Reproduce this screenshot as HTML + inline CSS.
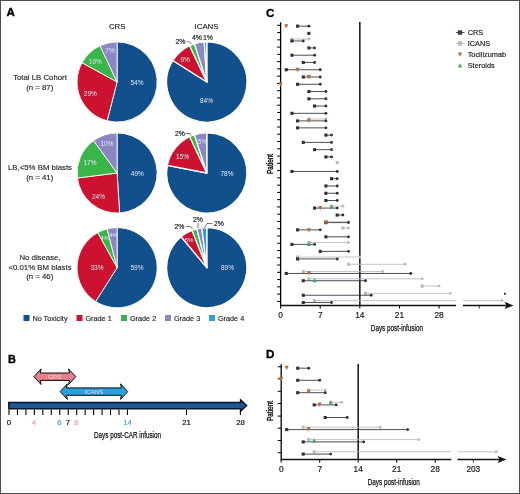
<!DOCTYPE html>
<html><head><meta charset="utf-8"><title>Figure</title>
<style>
html,body{margin:0;padding:0;background:#fff;}
body{width:520px;height:494px;overflow:hidden;}
svg{display:block;font-family:"Liberation Sans", sans-serif;}
</style></head><body>
<svg width="520" height="494" viewBox="0 0 520 494">
<defs><filter id="soft" x="0" y="0" width="520" height="494" filterUnits="userSpaceOnUse" color-interpolation-filters="sRGB"><feGaussianBlur stdDeviation="0.35"/></filter></defs>
<rect x="0" y="0" width="520" height="494" fill="#fff"/>
<rect x="0.5" y="0.5" width="519" height="493" fill="none" stroke="#4d4d4d" stroke-width="1"/>

<g filter="url(#soft)">
<text x="6.6" y="16.3" font-size="11.5" font-weight="bold" fill="#000" stroke="#000" stroke-width="0.35" textLength="8.4" lengthAdjust="spacingAndGlyphs">A</text>
<text x="8.1" y="363.2" font-size="11.5" font-weight="bold" fill="#000" stroke="#000" stroke-width="0.35" textLength="7.9" lengthAdjust="spacingAndGlyphs">B</text>
<text x="266.0" y="16.9" font-size="11.5" font-weight="bold" fill="#000" stroke="#000" stroke-width="0.35" textLength="8.4" lengthAdjust="spacingAndGlyphs">C</text>
<text x="266.0" y="357.8" font-size="11.5" font-weight="bold" fill="#000" stroke="#000" stroke-width="0.35" textLength="8.4" lengthAdjust="spacingAndGlyphs">D</text>
<text x="117.2" y="28.8" font-size="7.8" fill="#231f20" text-anchor="middle" font-weight="normal" stroke="#231f20" stroke-width="0.15">CRS</text>
<text x="206.5" y="28.8" font-size="7.8" fill="#231f20" text-anchor="middle" font-weight="normal" stroke="#231f20" stroke-width="0.15">ICANS</text>
<path d="M117.10,82.00 L117.10,41.95 A40.05,40.05 0 1 1 107.14,120.79 Z" fill="#11508c" stroke="#fffdf5" stroke-width="0.9" stroke-linejoin="round"/>
<path d="M117.10,82.00 L107.14,120.79 A40.05,40.05 0 0 1 82.00,62.71 Z" fill="#cc1230" stroke="#fffdf5" stroke-width="0.9" stroke-linejoin="round"/>
<path d="M117.10,82.00 L82.00,62.71 A40.05,40.05 0 0 1 100.05,45.76 Z" fill="#39b54a" stroke="#fffdf5" stroke-width="0.9" stroke-linejoin="round"/>
<path d="M117.10,82.00 L100.05,45.76 A40.05,40.05 0 0 1 117.10,41.95 Z" fill="#8c86c5" stroke="#fffdf5" stroke-width="0.9" stroke-linejoin="round"/>
<path d="M206.80,82.00 L206.80,41.85 A40.15,40.15 0 1 1 172.90,60.49 Z" fill="#11508c" stroke="#fffdf5" stroke-width="1.3" stroke-linejoin="round"/>
<path d="M206.80,82.00 L172.90,60.49 A40.15,40.15 0 0 1 189.70,45.67 Z" fill="#cc1230" stroke="#fffdf5" stroke-width="1.3" stroke-linejoin="round"/>
<path d="M206.80,82.00 L189.70,45.67 A40.15,40.15 0 0 1 194.39,43.82 Z" fill="#39b54a" stroke="#fffdf5" stroke-width="1.3" stroke-linejoin="round"/>
<path d="M206.80,82.00 L194.39,43.82 A40.15,40.15 0 0 1 204.28,41.93 Z" fill="#8c86c5" stroke="#fffdf5" stroke-width="1.3" stroke-linejoin="round"/>
<path d="M206.80,82.00 L204.28,41.93 A40.15,40.15 0 0 1 206.80,41.85 Z" fill="#2f9fdc" stroke="#fffdf5" stroke-width="1.3" stroke-linejoin="round"/>
<path d="M117.10,173.00 L117.10,132.95 A40.05,40.05 0 0 1 119.61,212.97 Z" fill="#11508c" stroke="#fffdf5" stroke-width="0.9" stroke-linejoin="round"/>
<path d="M117.10,173.00 L119.61,212.97 A40.05,40.05 0 0 1 77.37,178.02 Z" fill="#cc1230" stroke="#fffdf5" stroke-width="0.9" stroke-linejoin="round"/>
<path d="M117.10,173.00 L77.37,178.02 A40.05,40.05 0 0 1 93.56,140.60 Z" fill="#39b54a" stroke="#fffdf5" stroke-width="0.9" stroke-linejoin="round"/>
<path d="M117.10,173.00 L93.56,140.60 A40.05,40.05 0 0 1 117.10,132.95 Z" fill="#8c86c5" stroke="#fffdf5" stroke-width="0.9" stroke-linejoin="round"/>
<path d="M206.80,173.00 L206.80,132.85 A40.15,40.15 0 1 1 167.36,165.48 Z" fill="#11508c" stroke="#fffdf5" stroke-width="1.3" stroke-linejoin="round"/>
<path d="M206.80,173.00 L167.36,165.48 A40.15,40.15 0 0 1 189.70,136.67 Z" fill="#cc1230" stroke="#fffdf5" stroke-width="1.3" stroke-linejoin="round"/>
<path d="M206.80,173.00 L189.70,136.67 A40.15,40.15 0 0 1 194.39,134.82 Z" fill="#39b54a" stroke="#fffdf5" stroke-width="1.3" stroke-linejoin="round"/>
<path d="M206.80,173.00 L194.39,134.82 A40.15,40.15 0 0 1 206.80,132.85 Z" fill="#8c86c5" stroke="#fffdf5" stroke-width="1.3" stroke-linejoin="round"/>
<path d="M117.10,267.70 L117.10,227.65 A40.05,40.05 0 1 1 95.64,301.52 Z" fill="#11508c" stroke="#fffdf5" stroke-width="0.9" stroke-linejoin="round"/>
<path d="M117.10,267.70 L95.64,301.52 A40.05,40.05 0 0 1 97.81,232.60 Z" fill="#cc1230" stroke="#fffdf5" stroke-width="0.9" stroke-linejoin="round"/>
<path d="M117.10,267.70 L97.81,232.60 A40.05,40.05 0 0 1 107.14,228.91 Z" fill="#39b54a" stroke="#fffdf5" stroke-width="0.9" stroke-linejoin="round"/>
<path d="M117.10,267.70 L107.14,228.91 A40.05,40.05 0 0 1 117.10,227.65 Z" fill="#8c86c5" stroke="#fffdf5" stroke-width="0.9" stroke-linejoin="round"/>
<path d="M206.80,267.70 L206.80,227.55 A40.15,40.15 0 1 1 181.21,236.76 Z" fill="#11508c" stroke="#fffdf5" stroke-width="1.3" stroke-linejoin="round"/>
<path d="M206.80,267.70 L181.21,236.76 A40.15,40.15 0 0 1 192.02,230.37 Z" fill="#cc1230" stroke="#fffdf5" stroke-width="1.3" stroke-linejoin="round"/>
<path d="M206.80,267.70 L192.02,230.37 A40.15,40.15 0 0 1 196.82,228.81 Z" fill="#39b54a" stroke="#fffdf5" stroke-width="1.3" stroke-linejoin="round"/>
<path d="M206.80,267.70 L196.82,228.81 A40.15,40.15 0 0 1 201.77,227.87 Z" fill="#8c86c5" stroke="#fffdf5" stroke-width="1.3" stroke-linejoin="round"/>
<path d="M206.80,267.70 L201.77,227.87 A40.15,40.15 0 0 1 206.80,227.55 Z" fill="#2f9fdc" stroke="#fffdf5" stroke-width="1.3" stroke-linejoin="round"/>
<text x="137" y="84.7" font-size="6.5" fill="#dde9f5" text-anchor="middle" font-weight="normal">54%</text>
<text x="90.3" y="96.0" font-size="6.5" fill="#dde9f5" text-anchor="middle" font-weight="normal">29%</text>
<text x="95.3" y="64.0" font-size="6.5" fill="#dde9f5" text-anchor="middle" font-weight="normal">10%</text>
<text x="110" y="52.6" font-size="6.5" fill="#dde9f5" text-anchor="middle" font-weight="normal">7%</text>
<text x="206.5" y="102.80000000000001" font-size="6.5" fill="#dde9f5" text-anchor="middle" font-weight="normal">84%</text>
<text x="185.2" y="61.9" font-size="6.5" fill="#dde9f5" text-anchor="middle" font-weight="normal">9%</text>
<text x="180.4" y="44.0" font-size="6.9" fill="#231f20" text-anchor="middle" font-weight="normal" stroke="#231f20" stroke-width="0.2">2%</text>
<text x="197.0" y="39.8" font-size="6.9" fill="#231f20" text-anchor="middle" font-weight="normal" stroke="#231f20" stroke-width="0.2">4%</text>
<text x="208.0" y="39.8" font-size="6.9" fill="#231f20" text-anchor="middle" font-weight="normal" stroke="#231f20" stroke-width="0.2">1%</text>
<path d="M186.5,41.8 H189.5 L191.5,44" fill="none" stroke="#231f20" stroke-width="0.6"/>
<text x="137.3" y="175.9" font-size="6.5" fill="#dde9f5" text-anchor="middle" font-weight="normal">49%</text>
<text x="98.5" y="198.9" font-size="6.5" fill="#dde9f5" text-anchor="middle" font-weight="normal">24%</text>
<text x="90" y="164.9" font-size="6.5" fill="#dde9f5" text-anchor="middle" font-weight="normal">17%</text>
<text x="107" y="145.9" font-size="6.5" fill="#dde9f5" text-anchor="middle" font-weight="normal">10%</text>
<text x="227" y="175.9" font-size="6.5" fill="#dde9f5" text-anchor="middle" font-weight="normal">78%</text>
<text x="182.5" y="158.9" font-size="6.5" fill="#dde9f5" text-anchor="middle" font-weight="normal">15%</text>
<text x="202.5" y="143.9" font-size="6.5" fill="#dde9f5" text-anchor="middle" font-weight="normal">5%</text>
<text x="180" y="136.1" font-size="6.9" fill="#231f20" text-anchor="middle" font-weight="normal" stroke="#231f20" stroke-width="0.2">2%</text>
<path d="M185.5,133.4 H189.3 L190.8,135.6" fill="none" stroke="#231f20" stroke-width="0.7"/>
<text x="137" y="269.9" font-size="6.5" fill="#dde9f5" text-anchor="middle" font-weight="normal">59%</text>
<text x="97" y="269.9" font-size="6.5" fill="#dde9f5" text-anchor="middle" font-weight="normal">33%</text>
<text x="104.5" y="239.9" font-size="6" fill="#dde9f5" text-anchor="middle" font-weight="normal">4%</text>
<text x="113.5" y="237.4" font-size="6" fill="#dde9f5" text-anchor="middle" font-weight="normal">4%</text>
<text x="227.5" y="269.9" font-size="6.5" fill="#dde9f5" text-anchor="middle" font-weight="normal">89%</text>
<text x="189" y="241.9" font-size="6" fill="#dde9f5" text-anchor="middle" font-weight="normal">5%</text>
<text x="179.5" y="228.9" font-size="6.9" fill="#231f20" text-anchor="middle" font-weight="normal" stroke="#231f20" stroke-width="0.2">2%</text>
<text x="198" y="221.9" font-size="6.9" fill="#231f20" text-anchor="middle" font-weight="normal" stroke="#231f20" stroke-width="0.2">2%</text>
<text x="219" y="225.9" font-size="6.9" fill="#231f20" text-anchor="middle" font-weight="normal" stroke="#231f20" stroke-width="0.2">2%</text>
<path d="M186,226.5 H190.5 L192.5,229" fill="none" stroke="#231f20" stroke-width="0.6"/>
<path d="M198,223 V228" fill="none" stroke="#231f20" stroke-width="0.6"/>
<path d="M212.5,223.5 H207 L204.5,228" fill="none" stroke="#231f20" stroke-width="0.6"/>
<text x="40" y="79.7" font-size="7.8" fill="#231f20" text-anchor="middle" font-weight="normal" stroke="#231f20" stroke-width="0.15">Total LB Cohort</text>
<text x="39.7" y="89.5" font-size="7.8" fill="#231f20" text-anchor="middle" font-weight="normal" stroke="#231f20" stroke-width="0.15">(n = 87)</text>
<text x="40" y="170.3" font-size="7.8" fill="#231f20" text-anchor="middle" font-weight="normal" stroke="#231f20" stroke-width="0.15">LB,&lt;5% BM blasts</text>
<text x="39.7" y="179.7" font-size="7.8" fill="#231f20" text-anchor="middle" font-weight="normal" stroke="#231f20" stroke-width="0.15">(n = 41)</text>
<text x="40" y="260.3" font-size="7.8" fill="#231f20" text-anchor="middle" font-weight="normal" stroke="#231f20" stroke-width="0.15">No disease,</text>
<text x="40" y="269.9" font-size="7.8" fill="#231f20" text-anchor="middle" font-weight="normal" stroke="#231f20" stroke-width="0.15">&lt;0.01% BM blasts</text>
<text x="39.7" y="279.3" font-size="7.8" fill="#231f20" text-anchor="middle" font-weight="normal" stroke="#231f20" stroke-width="0.15">(n = 46)</text>
<rect x="23.5" y="315" width="6" height="6" fill="#11508c"/>
<text x="32.4" y="320.6" font-size="7.8" fill="#231f20" text-anchor="start" font-weight="normal" textLength="35.16" lengthAdjust="spacingAndGlyphs" stroke="#231f20" stroke-width="0.15">No Toxicity</text>
<rect x="76.5" y="315" width="6" height="6" fill="#cc1230"/>
<text x="85.4" y="320.6" font-size="7.8" fill="#231f20" text-anchor="start" font-weight="normal" textLength="26.37" lengthAdjust="spacingAndGlyphs" stroke="#231f20" stroke-width="0.15">Grade 1</text>
<rect x="121" y="315" width="6" height="6" fill="#39b54a"/>
<text x="129.9" y="320.6" font-size="7.8" fill="#231f20" text-anchor="start" font-weight="normal" textLength="26.37" lengthAdjust="spacingAndGlyphs" stroke="#231f20" stroke-width="0.15">Grade 2</text>
<rect x="165" y="315" width="6" height="6" fill="#8c86c5"/>
<text x="173.9" y="320.6" font-size="7.8" fill="#231f20" text-anchor="start" font-weight="normal" textLength="26.37" lengthAdjust="spacingAndGlyphs" stroke="#231f20" stroke-width="0.15">Grade 3</text>
<rect x="209" y="315" width="6" height="6" fill="#2f9fdc"/>
<text x="217.9" y="320.6" font-size="7.8" fill="#231f20" text-anchor="start" font-weight="normal" textLength="26.37" lengthAdjust="spacingAndGlyphs" stroke="#231f20" stroke-width="0.15">Grade 4</text>
<path d="M8.8,402.4 H240.6 V399.9 L246.6,405.6 L240.6,411.3 V408.8 H8.8 Z" fill="#1c5892" stroke="#07162a" stroke-width="1.5" stroke-linejoin="miter"/>
<line x1="240.4" y1="411.5" x2="240.4" y2="415" stroke="#000" stroke-width="1.1"/>
<line x1="9.00" y1="409.5" x2="9.00" y2="415" stroke="#000" stroke-width="1.1"/>
<line x1="17.46" y1="409.5" x2="17.46" y2="415" stroke="#000" stroke-width="1.1"/>
<line x1="25.92" y1="409.5" x2="25.92" y2="415" stroke="#000" stroke-width="1.1"/>
<line x1="34.38" y1="409.5" x2="34.38" y2="415" stroke="#000" stroke-width="1.1"/>
<line x1="42.84" y1="409.5" x2="42.84" y2="415" stroke="#000" stroke-width="1.1"/>
<line x1="51.30" y1="409.5" x2="51.30" y2="415" stroke="#000" stroke-width="1.1"/>
<line x1="59.76" y1="409.5" x2="59.76" y2="415" stroke="#000" stroke-width="1.1"/>
<line x1="68.22" y1="409.5" x2="68.22" y2="415" stroke="#000" stroke-width="1.1"/>
<line x1="76.68" y1="409.5" x2="76.68" y2="415" stroke="#000" stroke-width="1.1"/>
<line x1="85.14" y1="409.5" x2="85.14" y2="415" stroke="#000" stroke-width="1.1"/>
<line x1="93.60" y1="409.5" x2="93.60" y2="415" stroke="#000" stroke-width="1.1"/>
<line x1="102.06" y1="409.5" x2="102.06" y2="415" stroke="#000" stroke-width="1.1"/>
<line x1="110.52" y1="409.5" x2="110.52" y2="415" stroke="#000" stroke-width="1.1"/>
<line x1="118.98" y1="409.5" x2="118.98" y2="415" stroke="#000" stroke-width="1.1"/>
<line x1="127.44" y1="409.5" x2="127.44" y2="415" stroke="#000" stroke-width="1.1"/>
<line x1="186.5" y1="409.5" x2="186.5" y2="415" stroke="#000" stroke-width="1.1"/>
<path d="M33.9,376.7 L41.099999999999994,368.9 L40.199999999999996,373.0 H69.5 L68.6,368.9 L75.8,376.7 L68.6,384.5 L69.5,380.4 H40.199999999999996 L41.099999999999994,384.5 Z" fill="#e67f8b" stroke="#0a0a0a" stroke-width="1.0" stroke-linejoin="miter"/>
<text x="54.849999999999994" y="378.9" font-size="6.2" fill="#f8d3d6" text-anchor="middle" font-weight="normal">CRS</text>
<path d="M60.2,391.6 L67.4,383.8 L66.5,387.90000000000003 H121.4 L120.5,383.8 L127.7,391.6 L120.5,399.40000000000003 L121.4,395.3 H66.5 L67.4,399.40000000000003 Z" fill="#2aa1dc" stroke="#0a0a0a" stroke-width="1.0" stroke-linejoin="miter"/>
<text x="93.95" y="393.8" font-size="6.2" fill="#c8e6f7" text-anchor="middle" font-weight="normal">ICANS</text>
<text x="9" y="424.8" font-size="7.8" fill="#1a1a1a" text-anchor="middle" font-weight="normal" stroke="#1a1a1a" stroke-width="0.2">0</text>
<text x="34" y="424.8" font-size="7.8" fill="#f09aa5" text-anchor="middle" font-weight="normal" stroke="#f09aa5" stroke-width="0.2">4</text>
<text x="59.5" y="424.8" font-size="7.8" fill="#4aa8e0" text-anchor="middle" font-weight="normal" stroke="#4aa8e0" stroke-width="0.2">6</text>
<text x="68" y="424.8" font-size="7.8" fill="#1a1a1a" text-anchor="middle" font-weight="normal" stroke="#1a1a1a" stroke-width="0.2">7</text>
<text x="76.3" y="424.8" font-size="7.8" fill="#f09aa5" text-anchor="middle" font-weight="normal" stroke="#f09aa5" stroke-width="0.2">8</text>
<text x="127.5" y="424.8" font-size="7.8" fill="#4aa8e0" text-anchor="middle" font-weight="normal" stroke="#4aa8e0" stroke-width="0.2">14</text>
<text x="186.5" y="424.8" font-size="7.8" fill="#1a1a1a" text-anchor="middle" font-weight="normal" stroke="#1a1a1a" stroke-width="0.2">21</text>
<text x="240.5" y="424.8" font-size="7.8" fill="#1a1a1a" text-anchor="middle" font-weight="normal" stroke="#1a1a1a" stroke-width="0.2">28</text>
<text x="127.5" y="438.0" font-size="9.2" fill="#111" text-anchor="middle" font-weight="normal" textLength="67" lengthAdjust="spacingAndGlyphs" stroke="#111" stroke-width="0.25">Days post-CAR infusion</text>
<line x1="280.6" y1="22.3" x2="280.6" y2="306.09999999999997" stroke="#000" stroke-width="1.3"/>
<line x1="280.1" y1="305.4" x2="456" y2="305.4" stroke="#111" stroke-width="1.5"/>
<line x1="463" y1="305.4" x2="507" y2="305.4" stroke="#111" stroke-width="1.5"/>
<path d="M504.5,301.79999999999995 L513.5,305.4 L504.5,309.0 L506.5,305.4 Z" fill="#111"/>
<line x1="359.84" y1="22" x2="359.84" y2="305.4" stroke="#111" stroke-width="1.5"/>
<line x1="277.1" y1="25.30" x2="280.6" y2="25.30" stroke="#000" stroke-width="1.0"/>
<line x1="277.1" y1="32.56" x2="280.6" y2="32.56" stroke="#000" stroke-width="1.0"/>
<line x1="277.1" y1="39.83" x2="280.6" y2="39.83" stroke="#000" stroke-width="1.0"/>
<line x1="277.1" y1="47.09" x2="280.6" y2="47.09" stroke="#000" stroke-width="1.0"/>
<line x1="277.1" y1="54.36" x2="280.6" y2="54.36" stroke="#000" stroke-width="1.0"/>
<line x1="277.1" y1="61.62" x2="280.6" y2="61.62" stroke="#000" stroke-width="1.0"/>
<line x1="277.1" y1="68.89" x2="280.6" y2="68.89" stroke="#000" stroke-width="1.0"/>
<line x1="277.1" y1="76.16" x2="280.6" y2="76.16" stroke="#000" stroke-width="1.0"/>
<line x1="277.1" y1="83.42" x2="280.6" y2="83.42" stroke="#000" stroke-width="1.0"/>
<line x1="277.1" y1="90.69" x2="280.6" y2="90.69" stroke="#000" stroke-width="1.0"/>
<line x1="277.1" y1="97.95" x2="280.6" y2="97.95" stroke="#000" stroke-width="1.0"/>
<line x1="277.1" y1="105.22" x2="280.6" y2="105.22" stroke="#000" stroke-width="1.0"/>
<line x1="277.1" y1="112.48" x2="280.6" y2="112.48" stroke="#000" stroke-width="1.0"/>
<line x1="277.1" y1="119.75" x2="280.6" y2="119.75" stroke="#000" stroke-width="1.0"/>
<line x1="277.1" y1="127.01" x2="280.6" y2="127.01" stroke="#000" stroke-width="1.0"/>
<line x1="277.1" y1="134.28" x2="280.6" y2="134.28" stroke="#000" stroke-width="1.0"/>
<line x1="277.1" y1="141.54" x2="280.6" y2="141.54" stroke="#000" stroke-width="1.0"/>
<line x1="277.1" y1="148.81" x2="280.6" y2="148.81" stroke="#000" stroke-width="1.0"/>
<line x1="277.1" y1="156.07" x2="280.6" y2="156.07" stroke="#000" stroke-width="1.0"/>
<line x1="277.1" y1="163.34" x2="280.6" y2="163.34" stroke="#000" stroke-width="1.0"/>
<line x1="277.1" y1="170.60" x2="280.6" y2="170.60" stroke="#000" stroke-width="1.0"/>
<line x1="277.1" y1="177.87" x2="280.6" y2="177.87" stroke="#000" stroke-width="1.0"/>
<line x1="277.1" y1="185.13" x2="280.6" y2="185.13" stroke="#000" stroke-width="1.0"/>
<line x1="277.1" y1="192.40" x2="280.6" y2="192.40" stroke="#000" stroke-width="1.0"/>
<line x1="277.1" y1="199.66" x2="280.6" y2="199.66" stroke="#000" stroke-width="1.0"/>
<line x1="277.1" y1="206.93" x2="280.6" y2="206.93" stroke="#000" stroke-width="1.0"/>
<line x1="277.1" y1="214.19" x2="280.6" y2="214.19" stroke="#000" stroke-width="1.0"/>
<line x1="277.1" y1="221.46" x2="280.6" y2="221.46" stroke="#000" stroke-width="1.0"/>
<line x1="277.1" y1="228.72" x2="280.6" y2="228.72" stroke="#000" stroke-width="1.0"/>
<line x1="277.1" y1="235.99" x2="280.6" y2="235.99" stroke="#000" stroke-width="1.0"/>
<line x1="277.1" y1="243.25" x2="280.6" y2="243.25" stroke="#000" stroke-width="1.0"/>
<line x1="277.1" y1="250.52" x2="280.6" y2="250.52" stroke="#000" stroke-width="1.0"/>
<line x1="277.1" y1="257.78" x2="280.6" y2="257.78" stroke="#000" stroke-width="1.0"/>
<line x1="277.1" y1="265.04" x2="280.6" y2="265.04" stroke="#000" stroke-width="1.0"/>
<line x1="277.1" y1="272.31" x2="280.6" y2="272.31" stroke="#000" stroke-width="1.0"/>
<line x1="277.1" y1="279.57" x2="280.6" y2="279.57" stroke="#000" stroke-width="1.0"/>
<line x1="277.1" y1="286.84" x2="280.6" y2="286.84" stroke="#000" stroke-width="1.0"/>
<line x1="277.1" y1="294.10" x2="280.6" y2="294.10" stroke="#000" stroke-width="1.0"/>
<line x1="277.1" y1="301.37" x2="280.6" y2="301.37" stroke="#000" stroke-width="1.0"/>
<line x1="280.60" y1="305.4" x2="280.60" y2="308.59999999999997" stroke="#000" stroke-width="1.0"/>
<text x="280.6" y="318.2" font-size="8.3" fill="#1a1a1a" text-anchor="middle" font-weight="normal" stroke="#1a1a1a" stroke-width="0.2">0</text>
<line x1="320.22" y1="305.4" x2="320.22" y2="308.59999999999997" stroke="#000" stroke-width="1.0"/>
<text x="320.22" y="318.2" font-size="8.3" fill="#1a1a1a" text-anchor="middle" font-weight="normal" stroke="#1a1a1a" stroke-width="0.2">7</text>
<line x1="359.84" y1="305.4" x2="359.84" y2="308.59999999999997" stroke="#000" stroke-width="1.0"/>
<text x="359.84000000000003" y="318.2" font-size="8.3" fill="#1a1a1a" text-anchor="middle" font-weight="normal" stroke="#1a1a1a" stroke-width="0.2">14</text>
<line x1="399.46" y1="305.4" x2="399.46" y2="308.59999999999997" stroke="#000" stroke-width="1.0"/>
<text x="399.46000000000004" y="318.2" font-size="8.3" fill="#1a1a1a" text-anchor="middle" font-weight="normal" stroke="#1a1a1a" stroke-width="0.2">21</text>
<line x1="439.08" y1="305.4" x2="439.08" y2="308.59999999999997" stroke="#000" stroke-width="1.0"/>
<text x="439.08000000000004" y="318.2" font-size="8.3" fill="#1a1a1a" text-anchor="middle" font-weight="normal" stroke="#1a1a1a" stroke-width="0.2">28</text>
<line x1="479.3" y1="305.4" x2="479.3" y2="308.59999999999997" stroke="#111" stroke-width="0.8"/>
<text x="396.9" y="330.6" font-size="9.2" fill="#111" text-anchor="middle" font-weight="normal" textLength="52.2" lengthAdjust="spacingAndGlyphs" stroke="#111" stroke-width="0.25">Days post-infusion</text>
<text transform="translate(273.1,163.9) rotate(-90) scale(0.70,1)" font-size="9.2" text-anchor="middle" fill="#111" stroke="#111" stroke-width="0.4">Patient</text>
<path d="M284.16,24.26 H288.36 L286.26,28.56 Z" fill="#b96d30"/>
<line x1="297.58" y1="26.15" x2="308.90" y2="26.15" stroke="#2c2f3c" stroke-width="0.85"/>
<rect x="296.03" y="24.60" width="3.1" height="3.1" fill="#2c2f3c"/>
<circle cx="308.90" cy="26.15" r="1.45" fill="#2c2f3c"/>
<line x1="308.90" y1="33.41" x2="308.90" y2="33.41" stroke="#2c2f3c" stroke-width="0.85"/>
<rect x="307.35" y="31.86" width="3.1" height="3.1" fill="#2c2f3c"/>
<line x1="291.92" y1="39.08" x2="308.90" y2="39.08" stroke="#b7babf" stroke-width="0.85"/>
<rect x="290.37" y="37.53" width="3.1" height="3.1" fill="#b7babf"/>
<circle cx="308.90" cy="39.08" r="1.45" fill="#b7babf"/>
<line x1="291.92" y1="40.98" x2="303.24" y2="40.98" stroke="#2c2f3c" stroke-width="0.85"/>
<rect x="290.37" y="39.43" width="3.1" height="3.1" fill="#2c2f3c"/>
<circle cx="303.24" cy="40.98" r="1.45" fill="#2c2f3c"/>
<line x1="308.90" y1="47.94" x2="314.56" y2="47.94" stroke="#2c2f3c" stroke-width="0.85"/>
<rect x="307.35" y="46.39" width="3.1" height="3.1" fill="#2c2f3c"/>
<circle cx="314.56" cy="47.94" r="1.45" fill="#2c2f3c"/>
<line x1="291.92" y1="55.21" x2="314.56" y2="55.21" stroke="#2c2f3c" stroke-width="0.85"/>
<rect x="290.37" y="53.66" width="3.1" height="3.1" fill="#2c2f3c"/>
<circle cx="314.56" cy="55.21" r="1.45" fill="#2c2f3c"/>
<line x1="303.24" y1="62.47" x2="314.56" y2="62.47" stroke="#2c2f3c" stroke-width="0.85"/>
<rect x="301.69" y="60.92" width="3.1" height="3.1" fill="#2c2f3c"/>
<circle cx="314.56" cy="62.47" r="1.45" fill="#2c2f3c"/>
<line x1="286.26" y1="69.74" x2="320.22" y2="69.74" stroke="#2c2f3c" stroke-width="0.85"/>
<rect x="284.71" y="68.19" width="3.1" height="3.1" fill="#2c2f3c"/>
<circle cx="320.22" cy="69.74" r="1.45" fill="#2c2f3c"/>
<path d="M295.48,67.85 H299.68 L297.58,72.16 Z" fill="#b96d30"/>
<line x1="303.24" y1="77.00" x2="320.22" y2="77.00" stroke="#2c2f3c" stroke-width="0.85"/>
<rect x="301.69" y="75.45" width="3.1" height="3.1" fill="#2c2f3c"/>
<circle cx="320.22" cy="77.00" r="1.45" fill="#2c2f3c"/>
<path d="M306.80,75.11 H311.00 L308.90,79.42 Z" fill="#b96d30"/>
<path d="M278.50,82.38 H282.70 L280.60,86.69 Z" fill="#b96d30"/>
<line x1="297.58" y1="84.27" x2="320.22" y2="84.27" stroke="#2c2f3c" stroke-width="0.85"/>
<rect x="296.03" y="82.72" width="3.1" height="3.1" fill="#2c2f3c"/>
<circle cx="320.22" cy="84.27" r="1.45" fill="#2c2f3c"/>
<line x1="308.90" y1="91.53" x2="325.88" y2="91.53" stroke="#2c2f3c" stroke-width="0.85"/>
<rect x="307.35" y="89.98" width="3.1" height="3.1" fill="#2c2f3c"/>
<circle cx="325.88" cy="91.53" r="1.45" fill="#2c2f3c"/>
<line x1="308.90" y1="98.80" x2="325.88" y2="98.80" stroke="#2c2f3c" stroke-width="0.85"/>
<rect x="307.35" y="97.25" width="3.1" height="3.1" fill="#2c2f3c"/>
<circle cx="325.88" cy="98.80" r="1.45" fill="#2c2f3c"/>
<line x1="314.56" y1="106.06" x2="325.88" y2="106.06" stroke="#2c2f3c" stroke-width="0.85"/>
<rect x="313.01" y="104.52" width="3.1" height="3.1" fill="#2c2f3c"/>
<circle cx="325.88" cy="106.06" r="1.45" fill="#2c2f3c"/>
<line x1="291.92" y1="113.33" x2="325.88" y2="113.33" stroke="#2c2f3c" stroke-width="0.85"/>
<rect x="290.37" y="111.78" width="3.1" height="3.1" fill="#2c2f3c"/>
<circle cx="325.88" cy="113.33" r="1.45" fill="#2c2f3c"/>
<line x1="308.90" y1="119.00" x2="325.88" y2="119.00" stroke="#b7babf" stroke-width="0.85"/>
<rect x="307.35" y="117.45" width="3.1" height="3.1" fill="#b7babf"/>
<circle cx="325.88" cy="119.00" r="1.45" fill="#b7babf"/>
<line x1="297.58" y1="120.89" x2="325.88" y2="120.89" stroke="#2c2f3c" stroke-width="0.85"/>
<rect x="296.03" y="119.34" width="3.1" height="3.1" fill="#2c2f3c"/>
<circle cx="325.88" cy="120.89" r="1.45" fill="#2c2f3c"/>
<path d="M306.80,118.70 H311.00 L308.90,123.01 Z" fill="#b96d30"/>
<line x1="297.58" y1="127.86" x2="325.88" y2="127.86" stroke="#2c2f3c" stroke-width="0.85"/>
<rect x="296.03" y="126.31" width="3.1" height="3.1" fill="#2c2f3c"/>
<circle cx="325.88" cy="127.86" r="1.45" fill="#2c2f3c"/>
<line x1="325.88" y1="135.12" x2="331.54" y2="135.12" stroke="#2c2f3c" stroke-width="0.85"/>
<rect x="324.33" y="133.57" width="3.1" height="3.1" fill="#2c2f3c"/>
<circle cx="331.54" cy="135.12" r="1.45" fill="#2c2f3c"/>
<line x1="303.24" y1="142.39" x2="331.54" y2="142.39" stroke="#2c2f3c" stroke-width="0.85"/>
<rect x="301.69" y="140.84" width="3.1" height="3.1" fill="#2c2f3c"/>
<circle cx="331.54" cy="142.39" r="1.45" fill="#2c2f3c"/>
<line x1="314.56" y1="149.66" x2="331.54" y2="149.66" stroke="#2c2f3c" stroke-width="0.85"/>
<rect x="313.01" y="148.10" width="3.1" height="3.1" fill="#2c2f3c"/>
<circle cx="331.54" cy="149.66" r="1.45" fill="#2c2f3c"/>
<line x1="325.88" y1="156.92" x2="331.54" y2="156.92" stroke="#2c2f3c" stroke-width="0.85"/>
<rect x="324.33" y="155.37" width="3.1" height="3.1" fill="#2c2f3c"/>
<circle cx="331.54" cy="156.92" r="1.45" fill="#2c2f3c"/>
<line x1="337.20" y1="162.59" x2="337.20" y2="162.59" stroke="#b7babf" stroke-width="0.85"/>
<rect x="335.65" y="161.03" width="3.1" height="3.1" fill="#b7babf"/>
<line x1="291.92" y1="171.45" x2="337.20" y2="171.45" stroke="#2c2f3c" stroke-width="0.85"/>
<rect x="290.37" y="169.90" width="3.1" height="3.1" fill="#2c2f3c"/>
<circle cx="337.20" cy="171.45" r="1.45" fill="#2c2f3c"/>
<line x1="331.54" y1="178.72" x2="337.20" y2="178.72" stroke="#2c2f3c" stroke-width="0.85"/>
<rect x="329.99" y="177.16" width="3.1" height="3.1" fill="#2c2f3c"/>
<circle cx="337.20" cy="178.72" r="1.45" fill="#2c2f3c"/>
<line x1="325.88" y1="185.98" x2="337.20" y2="185.98" stroke="#2c2f3c" stroke-width="0.85"/>
<rect x="324.33" y="184.43" width="3.1" height="3.1" fill="#2c2f3c"/>
<circle cx="337.20" cy="185.98" r="1.45" fill="#2c2f3c"/>
<line x1="325.88" y1="193.25" x2="337.20" y2="193.25" stroke="#2c2f3c" stroke-width="0.85"/>
<rect x="324.33" y="191.69" width="3.1" height="3.1" fill="#2c2f3c"/>
<circle cx="337.20" cy="193.25" r="1.45" fill="#2c2f3c"/>
<line x1="325.88" y1="200.51" x2="337.20" y2="200.51" stroke="#2c2f3c" stroke-width="0.85"/>
<rect x="324.33" y="198.96" width="3.1" height="3.1" fill="#2c2f3c"/>
<circle cx="337.20" cy="200.51" r="1.45" fill="#2c2f3c"/>
<line x1="331.54" y1="206.18" x2="342.86" y2="206.18" stroke="#b7babf" stroke-width="0.85"/>
<rect x="329.99" y="204.62" width="3.1" height="3.1" fill="#b7babf"/>
<circle cx="342.86" cy="206.18" r="1.45" fill="#b7babf"/>
<line x1="314.56" y1="208.08" x2="337.20" y2="208.08" stroke="#2c2f3c" stroke-width="0.85"/>
<rect x="313.01" y="206.53" width="3.1" height="3.1" fill="#2c2f3c"/>
<circle cx="337.20" cy="208.08" r="1.45" fill="#2c2f3c"/>
<path d="M318.12,205.89 H322.32 L320.22,210.19 Z" fill="#b96d30"/>
<path d="M329.44,208.86 H333.64 L331.54,204.56 Z" fill="#3fa952"/>
<line x1="337.20" y1="215.04" x2="342.86" y2="215.04" stroke="#2c2f3c" stroke-width="0.85"/>
<rect x="335.65" y="213.49" width="3.1" height="3.1" fill="#2c2f3c"/>
<circle cx="342.86" cy="215.04" r="1.45" fill="#2c2f3c"/>
<line x1="325.88" y1="221.61" x2="348.52" y2="221.61" stroke="#b7babf" stroke-width="0.85"/>
<rect x="324.33" y="220.06" width="3.1" height="3.1" fill="#b7babf"/>
<circle cx="348.52" cy="221.61" r="1.45" fill="#b7babf"/>
<line x1="325.88" y1="222.61" x2="348.52" y2="222.61" stroke="#2c2f3c" stroke-width="0.85"/>
<rect x="324.33" y="221.06" width="3.1" height="3.1" fill="#2c2f3c"/>
<circle cx="348.52" cy="222.61" r="1.45" fill="#2c2f3c"/>
<path d="M323.78,220.42 H327.98 L325.88,224.72 Z" fill="#b96d30"/>
<line x1="297.58" y1="229.87" x2="320.22" y2="229.87" stroke="#2c2f3c" stroke-width="0.85"/>
<rect x="296.03" y="228.32" width="3.1" height="3.1" fill="#2c2f3c"/>
<circle cx="320.22" cy="229.87" r="1.45" fill="#2c2f3c"/>
<path d="M306.80,228.18 H311.00 L308.90,232.48 Z" fill="#b96d30"/>
<line x1="342.86" y1="227.97" x2="348.52" y2="227.97" stroke="#b7babf" stroke-width="0.85"/>
<rect x="341.31" y="226.42" width="3.1" height="3.1" fill="#b7babf"/>
<circle cx="348.52" cy="227.97" r="1.45" fill="#b7babf"/>
<line x1="325.88" y1="236.84" x2="348.52" y2="236.84" stroke="#2c2f3c" stroke-width="0.85"/>
<rect x="324.33" y="235.28" width="3.1" height="3.1" fill="#2c2f3c"/>
<circle cx="348.52" cy="236.84" r="1.45" fill="#2c2f3c"/>
<line x1="308.90" y1="242.50" x2="348.52" y2="242.50" stroke="#b7babf" stroke-width="0.85"/>
<rect x="307.35" y="240.95" width="3.1" height="3.1" fill="#b7babf"/>
<circle cx="348.52" cy="242.50" r="1.45" fill="#b7babf"/>
<line x1="291.92" y1="244.40" x2="314.56" y2="244.40" stroke="#2c2f3c" stroke-width="0.85"/>
<rect x="290.37" y="242.85" width="3.1" height="3.1" fill="#2c2f3c"/>
<circle cx="314.56" cy="244.40" r="1.45" fill="#2c2f3c"/>
<path d="M306.80,245.99 H311.00 L308.90,241.69 Z" fill="#3fa952"/>
<line x1="320.22" y1="251.37" x2="348.52" y2="251.37" stroke="#2c2f3c" stroke-width="0.85"/>
<rect x="318.67" y="249.81" width="3.1" height="3.1" fill="#2c2f3c"/>
<circle cx="348.52" cy="251.37" r="1.45" fill="#2c2f3c"/>
<line x1="297.58" y1="257.03" x2="359.84" y2="257.03" stroke="#b7babf" stroke-width="0.85"/>
<rect x="296.03" y="255.48" width="3.1" height="3.1" fill="#b7babf"/>
<circle cx="359.84" cy="257.03" r="1.45" fill="#b7babf"/>
<line x1="297.58" y1="258.93" x2="337.20" y2="258.93" stroke="#2c2f3c" stroke-width="0.85"/>
<rect x="296.03" y="257.38" width="3.1" height="3.1" fill="#2c2f3c"/>
<circle cx="337.20" cy="258.93" r="1.45" fill="#2c2f3c"/>
<line x1="348.52" y1="264.29" x2="405.12" y2="264.29" stroke="#b7babf" stroke-width="0.85"/>
<rect x="346.97" y="262.74" width="3.1" height="3.1" fill="#b7babf"/>
<circle cx="405.12" cy="264.29" r="1.45" fill="#b7babf"/>
<line x1="303.24" y1="271.56" x2="382.48" y2="271.56" stroke="#b7babf" stroke-width="0.85"/>
<rect x="301.69" y="270.01" width="3.1" height="3.1" fill="#b7babf"/>
<circle cx="382.48" cy="271.56" r="1.45" fill="#b7babf"/>
<line x1="286.26" y1="273.46" x2="410.78" y2="273.46" stroke="#2c2f3c" stroke-width="0.85"/>
<rect x="284.71" y="271.91" width="3.1" height="3.1" fill="#2c2f3c"/>
<circle cx="410.78" cy="273.46" r="1.45" fill="#2c2f3c"/>
<path d="M306.80,271.27 H311.00 L308.90,275.57 Z" fill="#b96d30"/>
<line x1="308.90" y1="278.82" x2="422.10" y2="278.82" stroke="#b7babf" stroke-width="0.85"/>
<rect x="307.35" y="277.27" width="3.1" height="3.1" fill="#b7babf"/>
<circle cx="422.10" cy="278.82" r="1.45" fill="#b7babf"/>
<line x1="303.24" y1="280.72" x2="365.50" y2="280.72" stroke="#2c2f3c" stroke-width="0.85"/>
<rect x="301.69" y="279.17" width="3.1" height="3.1" fill="#2c2f3c"/>
<circle cx="365.50" cy="280.72" r="1.45" fill="#2c2f3c"/>
<path d="M312.46,282.31 H316.66 L314.56,278.01 Z" fill="#3fa952"/>
<line x1="422.10" y1="286.09" x2="439.08" y2="286.09" stroke="#b7babf" stroke-width="0.85"/>
<rect x="420.55" y="284.54" width="3.1" height="3.1" fill="#b7babf"/>
<circle cx="439.08" cy="286.09" r="1.45" fill="#b7babf"/>
<line x1="365.50" y1="293.35" x2="450.40" y2="293.35" stroke="#b7babf" stroke-width="0.85"/>
<rect x="363.95" y="291.80" width="3.1" height="3.1" fill="#b7babf"/>
<circle cx="450.40" cy="293.35" r="1.45" fill="#b7babf"/>
<line x1="303.24" y1="295.25" x2="371.16" y2="295.25" stroke="#2c2f3c" stroke-width="0.85"/>
<rect x="301.69" y="293.70" width="3.1" height="3.1" fill="#2c2f3c"/>
<circle cx="371.16" cy="295.25" r="1.45" fill="#2c2f3c"/>
<line x1="314.56" y1="300.62" x2="456.00" y2="300.62" stroke="#b7babf" stroke-width="0.85"/>
<line x1="463.00" y1="300.62" x2="502.00" y2="300.62" stroke="#b7babf" stroke-width="0.85"/>
<rect x="313.01" y="299.07" width="3.1" height="3.1" fill="#b7babf"/>
<circle cx="502.00" cy="300.62" r="1.45" fill="#b7babf"/>
<line x1="303.24" y1="302.52" x2="331.54" y2="302.52" stroke="#2c2f3c" stroke-width="0.85"/>
<rect x="301.69" y="300.97" width="3.1" height="3.1" fill="#2c2f3c"/>
<circle cx="331.54" cy="302.52" r="1.45" fill="#2c2f3c"/>
<rect x="504" y="292.8" width="1.8" height="1.8" fill="#222"/>
<line x1="456.00" y1="32.50" x2="464.50" y2="32.50" stroke="#2c2f3c" stroke-width="0.85"/>
<rect x="457.80" y="30.30" width="4.4" height="4.4" fill="#363a52"/>
<line x1="456.00" y1="43.40" x2="464.50" y2="43.40" stroke="#b7babf" stroke-width="0.85"/>
<rect x="457.80" y="41.20" width="4.4" height="4.4" fill="#b7babf"/>
<path d="M457.90,52.51 H462.10 L460.00,56.81 Z" fill="#b96d30"/>
<path d="M457.90,67.49 H462.10 L460.00,63.18 Z" fill="#3fa952"/>
<text x="467.7" y="35.25" font-size="8.1" fill="#231f20" text-anchor="start" font-weight="normal" textLength="15.52" lengthAdjust="spacingAndGlyphs" stroke="#231f20" stroke-width="0.2">CRS</text>
<text x="467.7" y="46.15" font-size="8.1" fill="#231f20" text-anchor="start" font-weight="normal" textLength="22.46" lengthAdjust="spacingAndGlyphs" stroke="#231f20" stroke-width="0.2">ICANS</text>
<text x="467.7" y="57.15" font-size="8.1" fill="#231f20" text-anchor="start" font-weight="normal" textLength="38.4" lengthAdjust="spacingAndGlyphs" stroke="#231f20" stroke-width="0.2">Tocilizumab</text>
<text x="467.7" y="68.35" font-size="8.1" fill="#231f20" text-anchor="start" font-weight="normal" textLength="26.96" lengthAdjust="spacingAndGlyphs" stroke="#231f20" stroke-width="0.2">Steroids</text>
<line x1="281.2" y1="364.3" x2="281.2" y2="460.2" stroke="#000" stroke-width="1.3"/>
<line x1="280.7" y1="459.5" x2="451.3" y2="459.5" stroke="#111" stroke-width="1.5"/>
<line x1="457.5" y1="459.5" x2="500" y2="459.5" stroke="#111" stroke-width="1.5"/>
<path d="M497.5,455.9 L506.5,459.5 L497.5,463.1 L499.5,459.5 Z" fill="#111"/>
<line x1="358.20" y1="364" x2="358.20" y2="459.5" stroke="#111" stroke-width="1.5"/>
<line x1="277.7" y1="366.80" x2="281.2" y2="366.80" stroke="#000" stroke-width="1.0"/>
<line x1="277.7" y1="378.90" x2="281.2" y2="378.90" stroke="#000" stroke-width="1.0"/>
<line x1="277.7" y1="391.30" x2="281.2" y2="391.30" stroke="#000" stroke-width="1.0"/>
<line x1="277.7" y1="403.50" x2="281.2" y2="403.50" stroke="#000" stroke-width="1.0"/>
<line x1="277.7" y1="416.10" x2="281.2" y2="416.10" stroke="#000" stroke-width="1.0"/>
<line x1="277.7" y1="428.20" x2="281.2" y2="428.20" stroke="#000" stroke-width="1.0"/>
<line x1="277.7" y1="440.50" x2="281.2" y2="440.50" stroke="#000" stroke-width="1.0"/>
<line x1="277.7" y1="452.70" x2="281.2" y2="452.70" stroke="#000" stroke-width="1.0"/>
<line x1="281.20" y1="459.5" x2="281.20" y2="462.7" stroke="#000" stroke-width="1.0"/>
<text x="281.2" y="472.2" font-size="8.3" fill="#1a1a1a" text-anchor="middle" font-weight="normal" stroke="#1a1a1a" stroke-width="0.2">0</text>
<line x1="319.70" y1="459.5" x2="319.70" y2="462.7" stroke="#000" stroke-width="1.0"/>
<text x="319.7" y="472.2" font-size="8.3" fill="#1a1a1a" text-anchor="middle" font-weight="normal" stroke="#1a1a1a" stroke-width="0.2">7</text>
<line x1="358.20" y1="459.5" x2="358.20" y2="462.7" stroke="#000" stroke-width="1.0"/>
<text x="358.2" y="472.2" font-size="8.3" fill="#1a1a1a" text-anchor="middle" font-weight="normal" stroke="#1a1a1a" stroke-width="0.2">14</text>
<line x1="396.70" y1="459.5" x2="396.70" y2="462.7" stroke="#000" stroke-width="1.0"/>
<text x="396.7" y="472.2" font-size="8.3" fill="#1a1a1a" text-anchor="middle" font-weight="normal" stroke="#1a1a1a" stroke-width="0.2">21</text>
<line x1="435.20" y1="459.5" x2="435.20" y2="462.7" stroke="#000" stroke-width="1.0"/>
<text x="435.2" y="472.2" font-size="8.3" fill="#1a1a1a" text-anchor="middle" font-weight="normal" stroke="#1a1a1a" stroke-width="0.2">28</text>
<line x1="473.3" y1="459.5" x2="473.3" y2="462.7" stroke="#111" stroke-width="0.8"/>
<text x="473.3" y="472.2" font-size="8.3" fill="#1a1a1a" text-anchor="middle" font-weight="normal" stroke="#1a1a1a" stroke-width="0.2">203</text>
<text x="393.8" y="485.1" font-size="9.2" fill="#111" text-anchor="middle" font-weight="normal" textLength="52.2" lengthAdjust="spacingAndGlyphs" stroke="#111" stroke-width="0.25">Days post-infusion</text>
<text transform="translate(273.1,411) rotate(-90) scale(0.70,1)" font-size="9.2" text-anchor="middle" fill="#111" stroke="#111" stroke-width="0.4">Patient</text>
<path d="M284.60,365.81 H288.80 L286.70,370.12 Z" fill="#b96d30"/>
<line x1="297.70" y1="368.20" x2="308.70" y2="368.20" stroke="#2c2f3c" stroke-width="0.85"/>
<rect x="296.15" y="366.65" width="3.1" height="3.1" fill="#2c2f3c"/>
<circle cx="308.70" cy="368.20" r="1.45" fill="#2c2f3c"/>
<path d="M279.10,376.91 H283.30 L281.20,381.22 Z" fill="#b96d30"/>
<line x1="297.70" y1="380.30" x2="319.70" y2="380.30" stroke="#2c2f3c" stroke-width="0.85"/>
<rect x="296.15" y="378.75" width="3.1" height="3.1" fill="#2c2f3c"/>
<circle cx="319.70" cy="380.30" r="1.45" fill="#2c2f3c"/>
<line x1="308.70" y1="390.10" x2="325.20" y2="390.10" stroke="#b7babf" stroke-width="0.85"/>
<rect x="307.15" y="388.55" width="3.1" height="3.1" fill="#b7babf"/>
<circle cx="325.20" cy="390.10" r="1.45" fill="#b7babf"/>
<line x1="297.70" y1="392.70" x2="325.20" y2="392.70" stroke="#2c2f3c" stroke-width="0.85"/>
<rect x="296.15" y="391.15" width="3.1" height="3.1" fill="#2c2f3c"/>
<circle cx="325.20" cy="392.70" r="1.45" fill="#2c2f3c"/>
<path d="M306.60,389.81 H310.80 L308.70,394.12 Z" fill="#b96d30"/>
<line x1="330.70" y1="402.30" x2="341.70" y2="402.30" stroke="#b7babf" stroke-width="0.85"/>
<rect x="329.15" y="400.75" width="3.1" height="3.1" fill="#b7babf"/>
<circle cx="341.70" cy="402.30" r="1.45" fill="#b7babf"/>
<line x1="314.20" y1="404.90" x2="336.20" y2="404.90" stroke="#2c2f3c" stroke-width="0.85"/>
<rect x="312.65" y="403.35" width="3.1" height="3.1" fill="#2c2f3c"/>
<circle cx="336.20" cy="404.90" r="1.45" fill="#2c2f3c"/>
<path d="M317.60,402.41 H321.80 L319.70,406.71 Z" fill="#b96d30"/>
<path d="M328.60,404.79 H332.80 L330.70,400.48 Z" fill="#3fa952"/>
<line x1="325.20" y1="417.50" x2="347.20" y2="417.50" stroke="#2c2f3c" stroke-width="0.85"/>
<rect x="323.65" y="415.95" width="3.1" height="3.1" fill="#2c2f3c"/>
<circle cx="347.20" cy="417.50" r="1.45" fill="#2c2f3c"/>
<line x1="303.20" y1="427.20" x2="380.20" y2="427.20" stroke="#b7babf" stroke-width="0.85"/>
<rect x="301.65" y="425.65" width="3.1" height="3.1" fill="#b7babf"/>
<circle cx="380.20" cy="427.20" r="1.45" fill="#b7babf"/>
<line x1="286.70" y1="429.60" x2="407.70" y2="429.60" stroke="#2c2f3c" stroke-width="0.85"/>
<rect x="285.15" y="428.05" width="3.1" height="3.1" fill="#2c2f3c"/>
<circle cx="407.70" cy="429.60" r="1.45" fill="#2c2f3c"/>
<path d="M306.60,427.11 H310.80 L308.70,431.42 Z" fill="#b96d30"/>
<line x1="308.70" y1="439.60" x2="418.70" y2="439.60" stroke="#b7babf" stroke-width="0.85"/>
<rect x="307.15" y="438.05" width="3.1" height="3.1" fill="#b7babf"/>
<circle cx="418.70" cy="439.60" r="1.45" fill="#b7babf"/>
<line x1="303.20" y1="441.90" x2="363.70" y2="441.90" stroke="#2c2f3c" stroke-width="0.85"/>
<rect x="301.65" y="440.35" width="3.1" height="3.1" fill="#2c2f3c"/>
<circle cx="363.70" cy="441.90" r="1.45" fill="#2c2f3c"/>
<path d="M312.10,442.59 H316.30 L314.20,438.28 Z" fill="#3fa952"/>
<line x1="314.20" y1="451.80" x2="451.30" y2="451.80" stroke="#b7babf" stroke-width="0.85"/>
<line x1="457.50" y1="451.80" x2="496.30" y2="451.80" stroke="#b7babf" stroke-width="0.85"/>
<rect x="312.65" y="450.25" width="3.1" height="3.1" fill="#b7babf"/>
<circle cx="496.30" cy="451.80" r="1.45" fill="#b7babf"/>
<line x1="303.20" y1="454.10" x2="330.70" y2="454.10" stroke="#2c2f3c" stroke-width="0.85"/>
<rect x="301.65" y="452.55" width="3.1" height="3.1" fill="#2c2f3c"/>
<circle cx="330.70" cy="454.10" r="1.45" fill="#2c2f3c"/>
</g>
</svg></body></html>
